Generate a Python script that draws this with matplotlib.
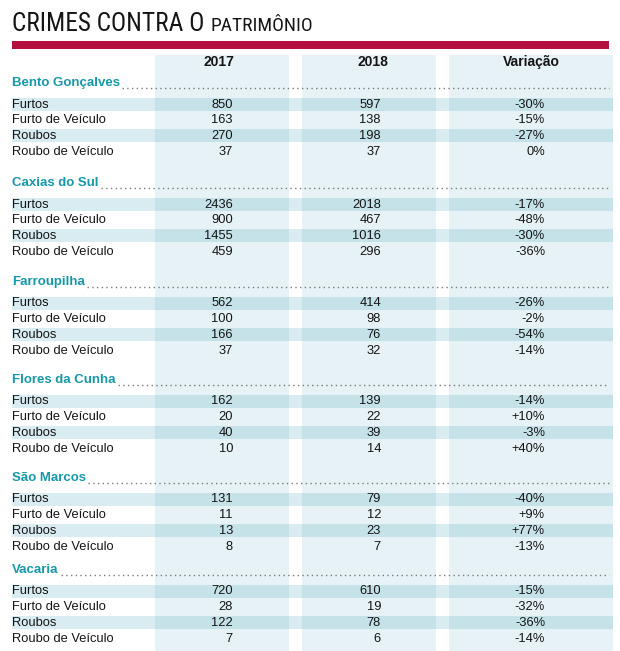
import matplotlib
matplotlib.use('Agg')
import matplotlib.pyplot as plt
from matplotlib.patches import Rectangle

# data
cities = ['Bento Gonçalves', 'Caxias do Sul', 'Farroupilha', 'Flores da Cunha', 'São Marcos', 'Vacaria']
crimes = ['Furtos', 'Furto de Veículo', 'Roubos', 'Roubo de Veículo']
col_labels = ['2017', '2018', 'Variação']
v2017 = [[850, 163, 270, 37],
         [2436, 900, 1455, 459],
         [562, 100, 166, 37],
         [162, 20, 40, 10],
         [131, 11, 13, 8],
         [720, 28, 122, 7]]
v2018 = [[597, 138, 198, 37],
         [2018, 467, 1016, 296],
         [414, 98, 76, 32],
         [139, 22, 39, 14],
         [79, 12, 23, 7],
         [610, 19, 78, 6]]
variacao = [[-30, -15, -27, 0],
            [-17, -48, -30, -36],
            [-26, -2, -54, -14],
            [-14, 10, -3, 40],
            [-40, 9, 77, -13],
            [-15, -32, -36, -14]]

# layout (pixels)
W, H = 620, 651
group_y = [83, 183, 282, 380, 478, 570]
row_gap = 15.7
first_row = 21.5
cols = [(155, 289), (302, 436), (449, 613)]
num_right = [233, 381, 545]
head_x = [219, 373, 531]

body = 'Liberation Sans'
title_font = 'Roboto Condensed'
teal = '#1798a8'
col_bg = '#e6f2f5'
stripe_out = '#d9ecf1'
stripe_in = '#c6e2e9'
ink = '#151515'

fig = plt.figure(figsize=(W / 100, H / 100), dpi=100)
ax = fig.add_axes([0, 0, 1, 1])
ax.set_xlim(0, W)
ax.set_ylim(H, 0)
ax.axis('off')

fig.canvas.draw()
r = fig.canvas.get_renderer()
inv = ax.transData.inverted()

# title
t1 = ax.text(12, 31, 'CRIMES CONTRA O ', family=title_font, fontsize=18.3, color=ink, va='baseline')
x_end = inv.transform((t1.get_window_extent(r).x1, 0))[0]
ax.text(x_end, 31, 'PATRIMÔNIO', family=title_font, fontsize=14, color=ink, va='baseline')
ax.add_patch(Rectangle((12, 41), 597, 8, color='#b30f3f', lw=0))

# column backgrounds
for x0, x1 in cols:
    ax.add_patch(Rectangle((x0, 55), x1 - x0, H - 55, color=col_bg, lw=0, zorder=0))

for hx, lab in zip(head_x, col_labels):
    ax.text(hx, 62, lab, family=body, fontsize=10, fontweight='bold', ha='center', va='center', color=ink)

for g, city in enumerate(cities):
    gy = group_y[g]
    t = ax.text(12, gy, city, family=body, fontsize=9.5, fontweight='bold', color=teal, va='center')
    x_end = inv.transform((t.get_window_extent(r).x1, 0))[0]
    ax.plot([x_end + 2, 609], [gy + 4.5, gy + 4.5], color='#7a7a7a', lw=1, ls=(0, (1, 2.4)), zorder=2)
    for i, crime in enumerate(crimes):
        y = gy + first_row + i * row_gap
        if i % 2 == 0:
            ax.add_patch(Rectangle((12, y - 6.5), 601, 13, color=stripe_out, lw=0, zorder=0.5))
            for x0, x1 in cols:
                ax.add_patch(Rectangle((x0, y - 6.5), x1 - x0, 13, color=stripe_in, lw=0, zorder=0.6))
        ax.text(12, y, crime, family=body, fontsize=9.3, color=ink, va='center')
        v = variacao[g][i]
        vs = '%+d%%' % v if v != 0 else '0%'
        for k, s in enumerate([str(v2017[g][i]), str(v2018[g][i]), vs]):
            ax.text(num_right[k], y, s, family=body, fontsize=9.3, color=ink, ha='right', va='center')

fig.savefig('out.png', dpi=100)
